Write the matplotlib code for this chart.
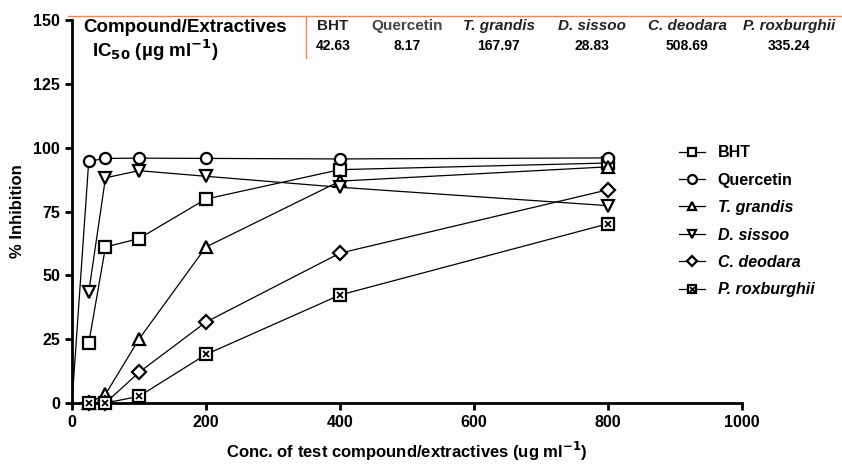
import matplotlib
matplotlib.use("Agg")
import matplotlib.pyplot as plt
from matplotlib.lines import Line2D

plt.rcParams['font.family'] = ['Liberation Sans', 'DejaVu Sans']
plt.rcParams['font.weight'] = 'bold'

conc = [25, 50, 100, 200, 400, 800]
bht = [23.4, 61.1, 64.4, 79.9, 91.4, 94.0]
quercetin = [94.7, 95.8, 95.9, 95.8, 95.6, 96.0]
t_grandis = [0.0, 3.4, 25.0, 61.1, 86.9, 92.5]
d_sissoo = [43.4, 88.2, 91.0, 88.8, 84.5, 77.3]
c_deodara = [0.0, 0.0, 12.0, 31.7, 58.7, 83.5]
p_roxburghii = [0.0, 0.0, 2.6, 19.0, 42.3, 70.2]

names = ['BHT', 'Quercetin', 'T. grandis', 'D. sissoo', 'C. deodara', 'P. roxburghii']
italic = [False, False, True, True, True, True]
ic50 = ['42.63', '8.17', '167.97', '28.83', '508.69', '335.24']

fig = plt.figure(figsize=(8.42, 4.66), dpi=100, facecolor='#fdfdfd')
ax = fig.add_axes([0.0855, 0.1352, 0.7955, 0.8218])
ax.set_facecolor('#fdfdfd')

kw = dict(color='black', lw=0.9, mfc='white', mec='black', mew=1.6, ms=8, clip_on=False, zorder=3)

h_bht, = ax.plot(conc, bht, marker='s', **kw)
# Quercetin line starts at origin
ax.plot([0] + conc[:1], [0] + quercetin[:1], color='black', lw=0.9, clip_on=False, zorder=2)
h_q, = ax.plot(conc, quercetin, marker='o', **kw)
h_t, = ax.plot(conc, t_grandis, marker='^', **kw)
h_d, = ax.plot(conc, d_sissoo, marker='v', **kw)
kw_d = dict(kw); kw_d['ms'] = 7
h_c, = ax.plot(conc, c_deodara, marker='D', **kw_d)
h_p, = ax.plot(conc, p_roxburghii, marker='s', **kw)
h_px, = ax.plot(conc, p_roxburghii, marker='x', ls='none', color='black', ms=4.5, mew=1.3, clip_on=False, zorder=4)

ax.set_xlim(0, 1000)
ax.set_ylim(0, 150)
ax.set_xticks([0, 200, 400, 600, 800, 1000])
ax.set_yticks([0, 25, 50, 75, 100, 125, 150])
for s in ['top', 'right']:
    ax.spines[s].set_visible(False)
for s in ['left', 'bottom']:
    ax.spines[s].set_linewidth(2.0)
ax.tick_params(width=2.0, length=5, labelsize=11.5)
for lab in ax.get_xticklabels() + ax.get_yticklabels():
    lab.set_fontweight('bold')

ax.set_ylabel('% Inhibition', fontsize=12, fontweight='bold', labelpad=6)
ax.set_xlabel('Conc. of test compound/extractives (ug ml$^{\\mathbf{-1}}$)', fontsize=12, fontweight='bold', labelpad=7)

handles = [h_bht, h_q, h_t, h_d, h_c, (h_p, h_px)]
leg = ax.legend(handles, names, loc='upper left', bbox_to_anchor=(0.897, 0.69), frameon=False,
                fontsize=11.5, handlelength=1.6, handletextpad=0.8, labelspacing=0.78,
                borderaxespad=0, markerscale=0.8)
for t, it in zip(leg.get_texts(), italic):
    t.set_fontweight('bold')
    if it:
        t.set_fontstyle('italic')

# header table
orange = '#e8895a'
fig.add_artist(Line2D([68 / 842, 1.0], [1 - 16 / 466, 1 - 16 / 466], color=orange, lw=1.0))
fig.add_artist(Line2D([305.5 / 842, 305.5 / 842], [1 - 16 / 466, 1 - 58 / 466], color=orange, lw=1.0))
fig.text(185 / 842, 1 - 28 / 466, 'Compound/Extractives', ha='center', va='center', fontsize=13.5, fontweight='bold')
fig.text(92 / 842, 1 - 50 / 466, 'IC$_{\\mathbf{50}}$ (µg ml$^{\\mathbf{-1}}$)', ha='left', va='center', fontsize=13.5, fontweight='bold')
col_x = [333, 407, 499, 592, 687, 789]
for x, n, it, v in zip(col_x, names, italic, ic50):
    fig.text(x / 842, 1 - 26 / 466, n, ha='center', va='center', fontsize=11, fontweight='bold',
             fontstyle='italic' if it else 'normal', color='#222222' if n != 'Quercetin' else '#444444')
    fig.text(x / 842, 1 - 46 / 466, v, ha='center', va='center', fontsize=10, fontweight='bold')

fig.savefig('out.png', dpi=100, facecolor=fig.get_facecolor())
